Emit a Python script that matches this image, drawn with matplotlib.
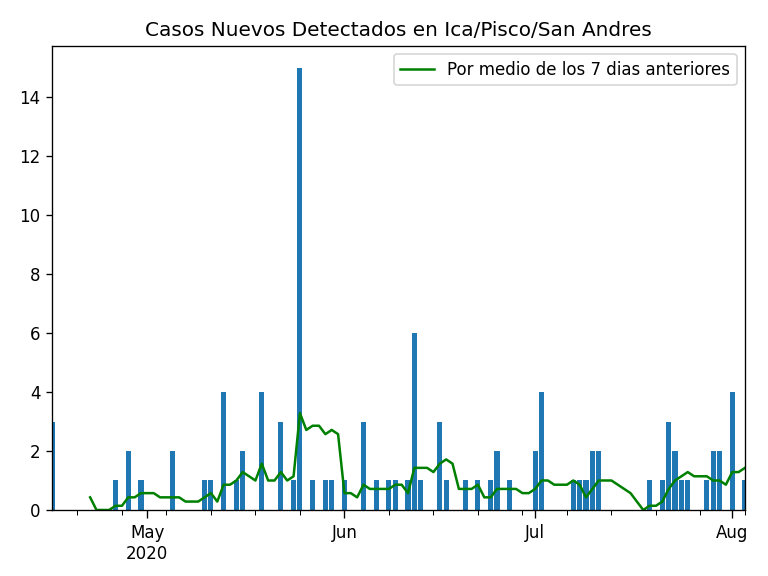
import matplotlib
matplotlib.use("Agg")
import matplotlib.pyplot as plt
import matplotlib.dates as mdates
import pandas as pd
import numpy as np

start_date = "2020-04-16"
end_date = "2020-08-03"
# daily new cases, Apr 16 .. Aug 3 (weekly rows)
cases = [
    3, 0, 0, 0, 0, 0, 0,
    0, 0, 0, 1, 0, 2, 0,
    1, 0, 0, 0, 0, 2, 0,
    0, 0, 0, 1, 1, 0, 4,
    0, 1, 2, 0, 0, 4, 0,
    0, 3, 0, 1, 15, 0, 1,
    0, 1, 1, 0, 1, 0, 0,
    3, 0, 1, 0, 1, 1, 0,
    1, 6, 1, 0, 0, 3, 1,
    0, 0, 1, 0, 1, 0, 1,
    2, 0, 1, 0, 0, 0, 2,
    4, 0, 0, 0, 0, 1, 1,
    1, 2, 2, 0, 0, 0, 0,
    0, 0, 0, 1, 0, 1, 3,
    2, 1, 1, 0, 0, 1, 2,
    2, 0, 4, 0, 1,
]
title = "Casos Nuevos Detectados en Ica/Pisco/San Andres"
legend_label = "Por medio de los 7 dias anteriores"

dates = pd.date_range(start_date, end_date, freq="D")
s = pd.Series(cases, index=dates)
rolling = s.rolling(7).mean()

fig, ax = plt.subplots(figsize=(6.4, 4.8), dpi=120)
fig.subplots_adjust(left=0.0677, right=0.970, top=0.921, bottom=0.1146)
ax.bar(dates, s.values, width=0.8, color="#1f77b4")
ax.plot(dates, rolling.values, color="green", label=legend_label)
ax.set_xlim(dates[0], dates[-1])
ax.set_ylim(bottom=0)
ax.set_title(title)
ax.legend(loc="upper right")

ax.xaxis.set_major_locator(mdates.MonthLocator())
ax.xaxis.set_minor_locator(mdates.WeekdayLocator(byweekday=mdates.MO))

def fmt(x, pos):
    d = mdates.num2date(x)
    if pos == 0:
        return d.strftime("%b\n%Y")
    return d.strftime("%b")

ax.xaxis.set_major_formatter(matplotlib.ticker.FuncFormatter(fmt))
ax.xaxis.set_minor_formatter(matplotlib.ticker.NullFormatter())
ax.tick_params(axis="x", which="major", length=5)
ax.tick_params(axis="x", which="minor", length=3)

fig.savefig("out.png", dpi=120)
